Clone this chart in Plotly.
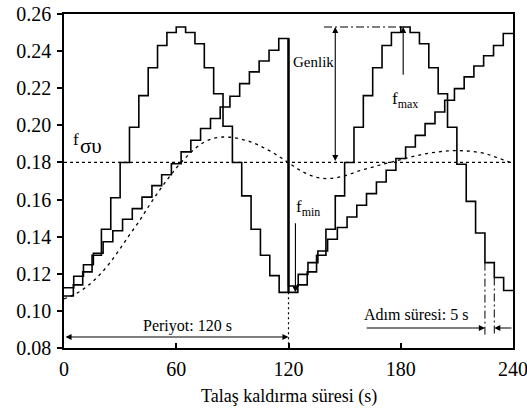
import plotly.graph_objects as go

# ---------------- data ----------------
STEP_T = [0, 5, 10, 15, 20, 25, 30, 35, 40, 45, 50, 55, 60, 65, 70, 75, 80, 85, 90, 95,
          100, 105, 110, 115, 120, 125, 130, 135, 140, 145, 150, 155, 160, 165, 170, 175,
          180, 185, 190, 195, 200, 205, 210, 215, 220, 225, 230, 235, 240]
SINE_STEPS = [0.108, 0.114, 0.121, 0.130, 0.144, 0.161, 0.180, 0.199, 0.216, 0.231,
              0.243, 0.250, 0.253, 0.250, 0.244, 0.231, 0.217, 0.1995, 0.180, 0.162,
              0.144, 0.130, 0.119, 0.110,
              0.110, 0.114, 0.121, 0.130, 0.144, 0.162, 0.180, 0.199, 0.216, 0.231,
              0.243, 0.250, 0.253, 0.250, 0.244, 0.231, 0.217, 0.199, 0.179, 0.159,
              0.142, 0.126, 0.118, 0.111]

RAMP_T = [0, 5.2, 10.4, 15.7, 20.9, 26.1, 31.3, 36.5, 41.7, 47.0, 52.2, 57.4, 62.6, 67.8,
          73.0, 78.3, 83.5, 88.7, 93.9, 99.1, 104.3, 109.6, 114.8,
          120, 125.2, 130.4, 135.7, 140.9, 146.1, 151.3, 156.5, 161.7, 167.0, 172.2, 177.4,
          182.6, 187.8, 193.0, 198.3, 203.5, 208.7, 213.9, 219.1, 224.3, 229.6, 234.8, 240]
RAMP_STEPS = [0.1125, 0.1187, 0.1249, 0.1311, 0.1373, 0.1432, 0.1494, 0.1551, 0.1613,
              0.1675, 0.1734, 0.1793, 0.1857, 0.1920, 0.1983, 0.2037, 0.2099, 0.2157,
              0.2225, 0.2288, 0.2347, 0.2405, 0.2468,
              0.1134, 0.1197, 0.1260, 0.1323, 0.1386, 0.1449, 0.1506, 0.1569, 0.1632,
              0.1695, 0.1758, 0.1821, 0.1883, 0.1946, 0.2009, 0.2072, 0.2135, 0.2198,
              0.2261, 0.2320, 0.2375, 0.2430, 0.2495]

RESP_T = [0, 5, 10, 15, 20, 25, 30, 35, 40, 45, 50, 55, 60, 65, 70, 75, 80, 85, 90, 95,
          100, 105, 110, 115, 120, 125, 130, 135, 140, 145, 150, 155, 160, 165, 170, 175,
          180, 185, 190, 195, 200, 205, 210, 215, 220, 225, 230, 235, 240]
RESP_F = [0.1065, 0.1085, 0.1115, 0.1155, 0.1205, 0.1265, 0.1335, 0.1410, 0.1480, 0.1560,
          0.1635, 0.1705, 0.1770, 0.1825, 0.1875, 0.1910, 0.1930, 0.1937, 0.1935, 0.1925,
          0.1910, 0.1888, 0.1862, 0.1832, 0.1798, 0.1765, 0.1738, 0.1720, 0.1713, 0.1717,
          0.1728, 0.1745, 0.1762, 0.1775, 0.1790, 0.1802, 0.1815, 0.1828, 0.1840, 0.1850,
          0.1857, 0.1862, 0.1864, 0.1862, 0.1857, 0.1848, 0.1832, 0.1813, 0.1795]

F_MEAN = 0.18
F_MAX = 0.253
F_MIN = 0.110
X_TICKS = [0, 60, 120, 180, 240]
Y_TICKS = [0.08, 0.10, 0.12, 0.14, 0.16, 0.18, 0.20, 0.22, 0.24, 0.26]

FONT = "Liberation Serif"
K = "black"

fig = go.Figure()

def seg(xs, ys, dash="solid", width=1.3):
    fig.add_trace(go.Scatter(x=xs, y=ys, mode="lines", showlegend=False, hoverinfo="skip",
                             line=dict(color=K, width=width, dash=dash)))

# mean line
seg([0, 240], [F_MEAN, F_MEAN], dash="3px,3px", width=1.2)
# response curve
fig.add_trace(go.Scatter(x=RESP_T, y=RESP_F, mode="lines", showlegend=False,
                         line=dict(color=K, width=1.3, dash="3px,4px", shape="spline")))
# step signals
fig.add_trace(go.Scatter(x=STEP_T, y=SINE_STEPS + [SINE_STEPS[-1]], mode="lines",
                         showlegend=False, line=dict(color=K, width=1.6, shape="hv")))
fig.add_trace(go.Scatter(x=RAMP_T, y=RAMP_STEPS + [RAMP_STEPS[-1]], mode="lines",
                         showlegend=False, line=dict(color=K, width=1.6, shape="hv")))
# bold drop at 120 s
seg([120, 120], [RAMP_STEPS[22], F_MIN], width=2.4)
# period marker
seg([120, 120], [F_MIN, 0.08], dash="2px,3px", width=1.2)
# amplitude reference (dash-dot)
seg([139, 181], [F_MAX, F_MAX], dash="8px,3px,2px,3px", width=1.1)
# step-time markers
seg([225, 225], [SINE_STEPS[45], 0.0868], dash="8px,3px,2px,3px", width=1.0)
seg([230, 230], [SINE_STEPS[46], 0.0868], dash="8px,3px,2px,3px", width=1.0)

def arrow(x, y, ax, ay, both=False):
    fig.add_annotation(x=x, y=y, ax=ax, ay=ay, xref="x", yref="y", axref="x", ayref="y",
                       text="", showarrow=True, arrowhead=2, arrowsize=1.1, arrowwidth=1.1,
                       arrowcolor=K, arrowside="end+start" if both else "end",
                       startarrowhead=2, startarrowsize=1.1, standoff=0, startstandoff=0)

def label(x, y, text, size=16, xanchor="center"):
    fig.add_annotation(x=x, y=y, xref="x", yref="y", text=text, showarrow=False,
                       xanchor=xanchor, yanchor="middle", font=dict(family=FONT, size=size, color=K))

# Genlik
arrow(145, F_MAX, 145, F_MEAN, both=True)
label(133.2, 0.234, "Genlik", size=15)
# f max
arrow(181.3, F_MAX, 181.3, 0.2265)
label(182.5, 0.2135, "f<sub>max</sub>", size=17)
# f min
arrow(123.7, F_MIN, 123.7, 0.148)
label(130.2, 0.1555, "f<sub>min</sub>", size=17)
# f sigma-upsilon
label(6.2, 0.1925, "f", size=17)
label(14.2, 0.1886, "συ", size=21)
# period
arrow(120, 0.0859, 0, 0.0859, both=True)
label(65.8, 0.0920, "Periyot: 120 s", size=16)
# step time
arrow(225, 0.0908, 161, 0.0908)
arrow(230, 0.0908, 240, 0.0908)
label(188, 0.0982, "Adım süresi: 5 s", size=16)

# x title
fig.add_annotation(x=0.5, y=-0.145, xref="paper", yref="paper", text="Talaş kaldırma süresi (s)",
                   showarrow=False, yanchor="middle", font=dict(family=FONT, size=18, color=K))

fig.update_xaxes(range=[0, 240], tickvals=X_TICKS, ticks="inside", ticklen=5, tickwidth=1.5,
                 tickcolor=K, showline=True, linecolor=K, linewidth=1.6, mirror=True,
                 showgrid=False, zeroline=False, ticklabelstandoff=2,
                 ticklabeloverflow="allow", automargin=False,
                 tickfont=dict(family=FONT, size=20, color=K))
fig.update_yaxes(range=[0.08, 0.26], tickvals=Y_TICKS, tickformat=".2f", ticks="outside",
                 ticklen=5, tickwidth=1.5, tickcolor=K, showline=True, linecolor=K,
                 linewidth=1.6, mirror=True, showgrid=False, zeroline=False, automargin=False,
                 ticklabelstandoff=2, tickfont=dict(family=FONT, size=20, color=K))
fig.update_layout(width=527, height=414, margin=dict(l=64, r=14, t=14, b=66),
                  plot_bgcolor="white", paper_bgcolor="white", showlegend=False,
                  font=dict(family=FONT, color=K))

fig.write_html("out.html")
